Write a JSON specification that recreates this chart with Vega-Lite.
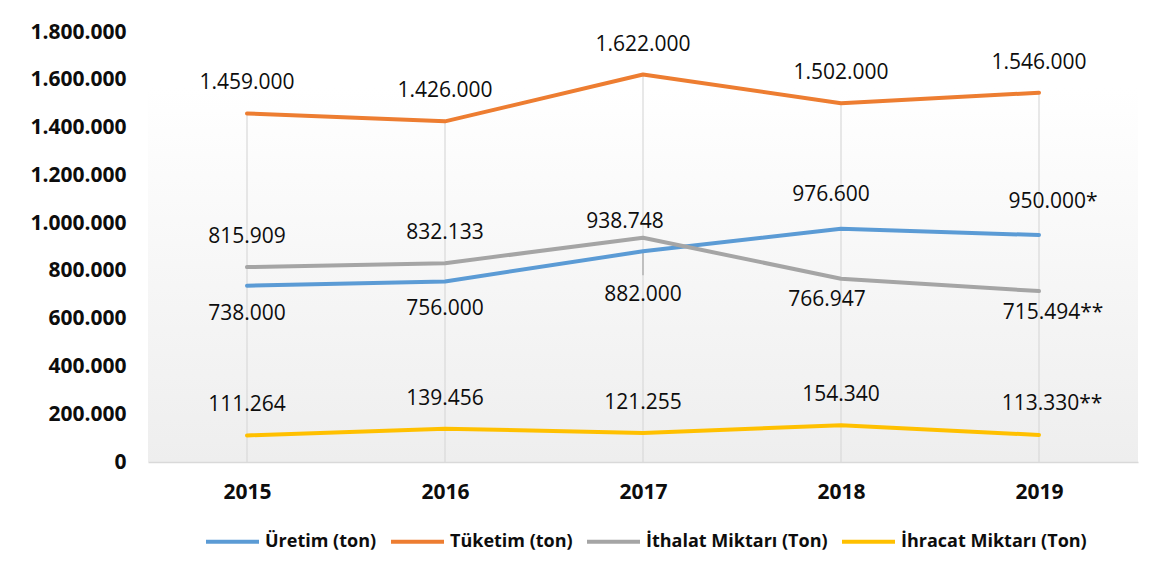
{
  "$schema": "https://vega.github.io/schema/vega-lite/v6.json",
  "width": 990,
  "height": 430,
  "autosize": {"type": "none"},
  "padding": {"left": 148, "top": 32, "right": 26, "bottom": 116},
  "background": "white",
  "config": {
    "locale": {"number": {"decimal": ",", "thousands": ".", "grouping": [3], "currency": ["", "₺"]}},
    "view": {"stroke": null, "fill": {"gradient": "linear", "x1": 0, "y1": 0, "x2": 0, "y2": 1, "stops": [{"offset": 0, "color": "#ffffff"}, {"offset": 0.13, "color": "#ffffff"}, {"offset": 1, "color": "#eeeeee"}]}},
    "font": "Open Sans"
  },
  "data": {
    "values": [
      {"year": "2015", "series": "Üretim (ton)", "value": 738000, "label": "738.000"},
      {"year": "2016", "series": "Üretim (ton)", "value": 756000, "label": "756.000"},
      {"year": "2017", "series": "Üretim (ton)", "value": 882000, "label": "882.000"},
      {"year": "2018", "series": "Üretim (ton)", "value": 976600, "label": "976.600"},
      {"year": "2019", "series": "Üretim (ton)", "value": 950000, "label": "950.000*"},
      {"year": "2015", "series": "Tüketim (ton)", "value": 1459000, "label": "1.459.000"},
      {"year": "2016", "series": "Tüketim (ton)", "value": 1426000, "label": "1.426.000"},
      {"year": "2017", "series": "Tüketim (ton)", "value": 1622000, "label": "1.622.000"},
      {"year": "2018", "series": "Tüketim (ton)", "value": 1502000, "label": "1.502.000"},
      {"year": "2019", "series": "Tüketim (ton)", "value": 1546000, "label": "1.546.000"},
      {"year": "2015", "series": "İthalat Miktarı (Ton)", "value": 815909, "label": "815.909"},
      {"year": "2016", "series": "İthalat Miktarı (Ton)", "value": 832133, "label": "832.133"},
      {"year": "2017", "series": "İthalat Miktarı (Ton)", "value": 938748, "label": "938.748"},
      {"year": "2018", "series": "İthalat Miktarı (Ton)", "value": 766947, "label": "766.947"},
      {"year": "2019", "series": "İthalat Miktarı (Ton)", "value": 715494, "label": "715.494**"},
      {"year": "2015", "series": "İhracat Miktarı (Ton)", "value": 111264, "label": "111.264"},
      {"year": "2016", "series": "İhracat Miktarı (Ton)", "value": 139456, "label": "139.456"},
      {"year": "2017", "series": "İhracat Miktarı (Ton)", "value": 121255, "label": "121.255"},
      {"year": "2018", "series": "İhracat Miktarı (Ton)", "value": 154340, "label": "154.340"},
      {"year": "2019", "series": "İhracat Miktarı (Ton)", "value": 113330, "label": "113.330**"}
    ]
  },
  "encoding": {
    "x": {
      "field": "year", "type": "ordinal",
      "scale": {"type": "point", "padding": 0.5},
      "axis": {"title": null, "labelAngle": 0, "labelFont": "Open Sans", "labelFontSize": 21, "labelFontWeight": "bold", "labelColor": "#0d0d0d", "labelPadding": 19, "ticks": false, "domainColor": "#d9d9d9", "domainWidth": 1.5, "grid": false}
    },
    "y": {
      "field": "value", "type": "quantitative",
      "scale": {"domain": [0, 1800000], "nice": false},
      "axis": {"title": null, "values": [0, 200000, 400000, 600000, 800000, 1000000, 1200000, 1400000, 1600000, 1800000], "format": ",d", "labelFont": "Open Sans", "labelFontSize": 21, "labelFontWeight": "bold", "labelColor": "#0d0d0d", "labelPadding": 22, "ticks": false, "domain": false, "grid": false}
    }
  },
  "layer": [
    {
      "transform": [{"filter": "datum.series === 'Tüketim (ton)'"}],
      "mark": {"type": "rule", "color": "#d9d9d9", "strokeWidth": 1.2},
      "encoding": {"y2": {"datum": 0}}
    },
    {
      "transform": [{"filter": "datum.series === 'Üretim (ton)' && datum.year === '2017'"}],
      "mark": {"type": "rule", "color": "#a6a6a6", "strokeWidth": 1.2},
      "encoding": {"y2": {"datum": 782000}}
    },
    {
      "mark": {"type": "line", "strokeWidth": 4, "strokeCap": "round", "strokeJoin": "round"},
      "encoding": {
        "color": {
          "field": "series", "type": "nominal",
          "scale": {"domain": ["Üretim (ton)", "Tüketim (ton)", "İthalat Miktarı (Ton)", "İhracat Miktarı (Ton)"], "range": ["#5b9bd5", "#ed7d31", "#a5a5a5", "#ffc000"]},
          "legend": {"orient": "none", "legendX": 56, "legendY": 481, "direction": "horizontal", "columns": 4, "title": null, "symbolType": "stroke", "symbolSize": 2809, "symbolStrokeWidth": 4, "labelFont": "Open Sans", "labelFontSize": 18, "labelFontWeight": "bold", "labelColor": "#0d0d0d", "labelOffset": 4, "columnPadding": 6, "labelLimit": 400}
        }
      }
    },
    {
      "transform": [{"filter": "datum.series === 'Tüketim (ton)' || (datum.series === 'İhracat Miktarı (Ton)' && datum.year !== '2019') || (datum.series === 'İthalat Miktarı (Ton)' && (datum.year === '2015' || datum.year === '2016'))"}],
      "mark": {"type": "text", "dy": -30, "fontSize": 21, "font": "Open Sans", "color": "#0d0d0d", "baseline": "middle"},
      "encoding": {"text": {"field": "label"}}
    },
    {
      "transform": [{"filter": "datum.series === 'Üretim (ton)' && (datum.year === '2015' || datum.year === '2016')"}],
      "mark": {"type": "text", "dy": 28, "fontSize": 21, "font": "Open Sans", "color": "#0d0d0d", "baseline": "middle"},
      "encoding": {"text": {"field": "label"}}
    },
    {
      "transform": [{"filter": "datum.series === 'Üretim (ton)' && datum.year === '2017'"}],
      "mark": {"type": "text", "dy": 44, "fontSize": 21, "font": "Open Sans", "color": "#0d0d0d", "baseline": "middle"},
      "encoding": {"text": {"field": "label"}}
    },
    {
      "transform": [{"filter": "datum.series === 'Üretim (ton)' && datum.year === '2018'"}],
      "mark": {"type": "text", "dy": -34, "dx": -10, "fontSize": 21, "font": "Open Sans", "color": "#0d0d0d", "baseline": "middle"},
      "encoding": {"text": {"field": "label"}}
    },
    {
      "transform": [{"filter": "datum.series === 'Üretim (ton)' && datum.year === '2019'"}],
      "mark": {"type": "text", "dy": -33, "dx": 14, "fontSize": 21, "font": "Open Sans", "color": "#0d0d0d", "baseline": "middle"},
      "encoding": {"text": {"field": "label"}}
    },
    {
      "transform": [{"filter": "datum.series === 'İthalat Miktarı (Ton)' && datum.year === '2017'"}],
      "mark": {"type": "text", "dy": -16, "dx": -18, "fontSize": 21, "font": "Open Sans", "color": "#0d0d0d", "baseline": "middle"},
      "encoding": {"text": {"field": "label"}}
    },
    {
      "transform": [{"filter": "datum.series === 'İthalat Miktarı (Ton)' && datum.year === '2018'"}],
      "mark": {"type": "text", "dy": 21, "dx": -14, "fontSize": 21, "font": "Open Sans", "color": "#0d0d0d", "baseline": "middle"},
      "encoding": {"text": {"field": "label"}}
    },
    {
      "transform": [{"filter": "datum.series === 'İthalat Miktarı (Ton)' && datum.year === '2019'"}],
      "mark": {"type": "text", "dy": 22, "dx": 14, "fontSize": 21, "font": "Open Sans", "color": "#0d0d0d", "baseline": "middle"},
      "encoding": {"text": {"field": "label"}}
    },
    {
      "transform": [{"filter": "datum.series === 'İhracat Miktarı (Ton)' && datum.year === '2019'"}],
      "mark": {"type": "text", "dy": -31, "dx": 13, "fontSize": 21, "font": "Open Sans", "color": "#0d0d0d", "baseline": "middle"},
      "encoding": {"text": {"field": "label"}}
    }
  ]
}
